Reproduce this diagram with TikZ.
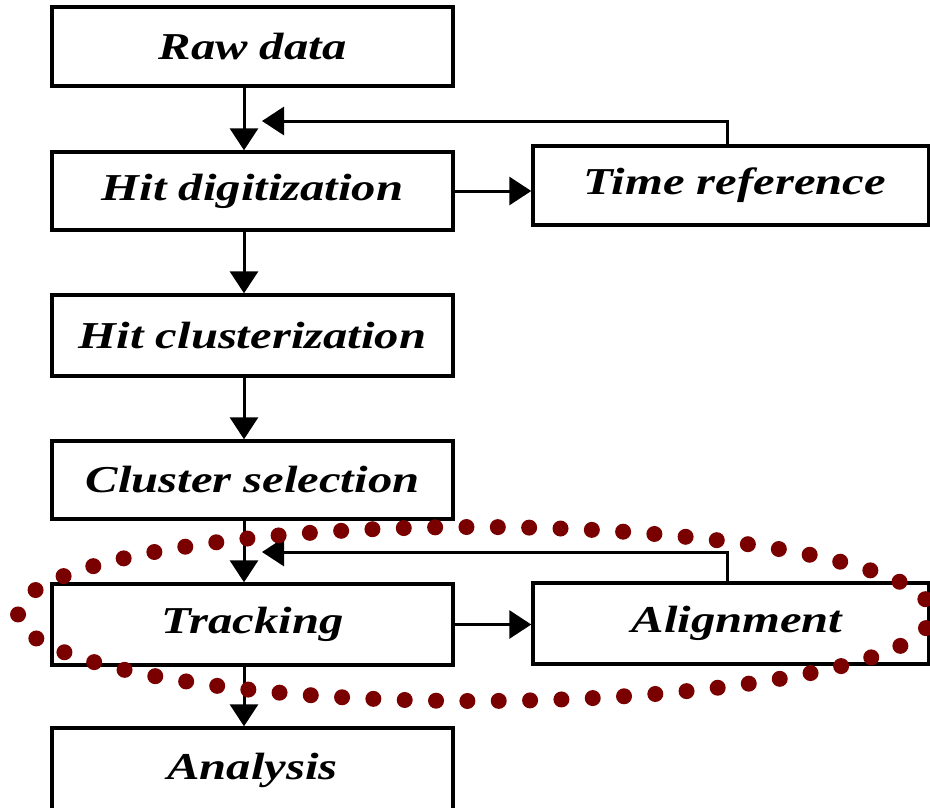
\documentclass[tikz,border=0pt]{standalone}
\usepackage{fontspec}
\setmainfont{Liberation Serif}
\newfontfamily\stagefont[FakeStretch=1.28]{Liberation Serif}
\usetikzlibrary{arrows.meta,calc}
\definecolor{ringred}{RGB}{122,0,0}
\tikzset{
  stage/.style={draw=black, line width=3.4pt, fill=white, inner sep=0pt,
    minimum width=401pt, minimum height=79pt,
    font=\stagefont\fontsize{38}{40}\selectfont\bfseries\itshape},
  side/.style={stage, minimum width=396pt},
  arr/.style={line width=3pt, -{Triangle[length=22pt,width=28pt]}},
  dotring/.style={draw=ringred, line width=16pt, line cap=round,
    dash pattern=on 0pt off 31.35pt, dash phase=15.675pt}
}
\begin{document}
\begin{tikzpicture}[x=1pt, y=-1pt]
  \useasboundingbox (0,0) rectangle (930,807);
  \clip (0,0) rectangle (930,807);

  % main chain of processing stages
  \node[stage] (raw) at (252.5,46.5) {Raw data};
  \node[stage, minimum height=78pt] (hit) at (252.5,191) {Hit digitization};
  \node[stage, minimum height=81pt] (clu) at (252.5,335.5) {Hit clusterization};
  \node[stage, minimum height=78pt] (sel) at (252.5,480) {Cluster selection};
  \node[stage, minimum height=81pt] (trk) at (252.5,624.5) {Tracking};
  \node[stage, minimum height=84pt] (ana) at (252.5,770) {Analysis};

  % side stages with feedback
  \node[side] (tref) at (731,185.5) {\hspace*{8pt}Time reference};
  \node[side, minimum height=81pt] (aln) at (731,623.5) {\hspace*{12pt}Alignment};

  % vertical spine and feedback entry points
  \coordinate (spine) at (244,0);
  \coordinate (tip1) at (262,121);
  \coordinate (tip2) at (262,552);

  \draw[arr] (raw.south -| spine) -- (hit.north -| spine);
  \draw[arr] (hit.south -| spine) -- (clu.north -| spine);
  \draw[arr] (clu.south -| spine) -- (sel.north -| spine);
  \draw[arr] (sel.south -| spine) -- (trk.north -| spine);
  \draw[arr] (trk.south -| spine) -- (ana.north -| spine);

  \draw[arr] (hit.east) -- (hit.east -| tref.west);
  \draw[arr] (trk.east) -- (trk.east -| aln.west);

  \draw[arr] ([xshift=-4pt]tref.north) |- (tip1);
  \draw[arr] ([xshift=-4pt]aln.north) |- (tip2);

  % dotted ring around the tracking / alignment loop
  \draw[dotring] (475,614) ellipse [x radius=457, y radius=87];
\end{tikzpicture}
\end{document}
